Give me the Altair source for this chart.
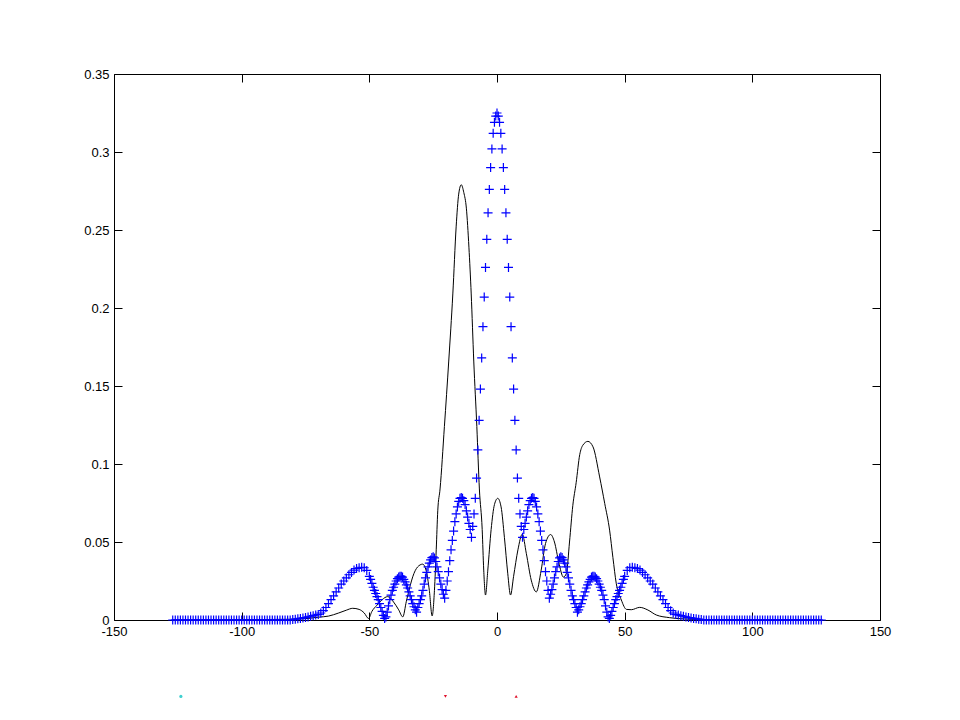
import altair as alt
import pandas as pd

# ---------------- data ----------------
x_ticks = [-150, -100, -50, 0, 50, 100, 150]
y_ticks = [0, 0.05, 0.1, 0.15, 0.2, 0.25, 0.3, 0.35]

# blue '+' series: sample grid (1 unit in the tails, 0.5 unit in the centre)
blue_x = list(range(-127, -50)) + [k / 2 for k in range(-100, 101)] + list(range(51, 128))

blue_y_left_tail = [
    0, 0, 0, 0, 0, 0, 0, 0, 0, 0,
    0, 0, 0, 0, 0, 0, 0, 0, 0, 0,
    0, 0, 0, 0, 0, 0, 0, 0, 0, 0,
    0, 0, 0, 0, 0, 0, 0, 0, 0, 0,
    0, 0, 0, 0, 0, 0, 0,
    0.0003, 0.0005, 0.0008, 0.001, 0.0013, 0.0016, 0.002, 0.0024, 0.0028, 0.0032,
    0.0036, 0.0045, 0.006, 0.008, 0.0105, 0.013, 0.0155, 0.018, 0.0205, 0.023,
    0.025, 0.027, 0.029, 0.0305, 0.032, 0.033, 0.0335, 0.0338, 0.0335, 0.0318,
]
blue_y_centre = [
    0.028, 0.026, 0.0235, 0.021, 0.019, 0.017, 0.015, 0.013, 0.0105, 0.008,
    0.0055, 0.003, 0.001, 0.002, 0.005, 0.009, 0.013, 0.016, 0.019, 0.021,
    0.023, 0.025, 0.0265, 0.0275, 0.028, 0.028, 0.0275, 0.026, 0.0245, 0.0225,
    0.0205, 0.018, 0.0155, 0.013, 0.0105, 0.0085, 0.0065, 0.005, 0.008, 0.0105,
    0.013, 0.0155, 0.019, 0.023, 0.027, 0.0305, 0.034, 0.0365, 0.0385, 0.040,
    0.0405, 0.0398, 0.0375, 0.034, 0.031, 0.027, 0.023, 0.0195, 0.0165, 0.014,
    0.019, 0.025, 0.031, 0.038, 0.045, 0.051, 0.057, 0.063, 0.068, 0.0725,
    0.076, 0.078, 0.0785, 0.078, 0.0765, 0.074, 0.070, 0.066, 0.062, 0.058,
    0.053, 0.060, 0.068, 0.078, 0.091, 0.109, 0.128, 0.148, 0.168, 0.188,
    0.207, 0.226, 0.244, 0.261, 0.276, 0.290, 0.302, 0.312, 0.319, 0.323,
    0.325,
    0.323, 0.319, 0.312, 0.302, 0.290, 0.276, 0.261, 0.244, 0.226, 0.207,
    0.188, 0.168, 0.148, 0.128, 0.109, 0.091, 0.078, 0.068, 0.060, 0.053,
    0.058, 0.062, 0.066, 0.070, 0.074, 0.0765, 0.078, 0.0785, 0.078, 0.076,
    0.0725, 0.068, 0.063, 0.057, 0.051, 0.045, 0.038, 0.031, 0.025, 0.019,
    0.014, 0.0165, 0.0195, 0.023, 0.027, 0.031, 0.034, 0.0375, 0.0398, 0.0405,
    0.040, 0.0385, 0.0365, 0.034, 0.0305, 0.027, 0.023, 0.019, 0.0155, 0.013,
    0.0105, 0.008, 0.005, 0.0065, 0.0085, 0.0105, 0.013, 0.0155, 0.018, 0.0205,
    0.0225, 0.0245, 0.026, 0.0275, 0.028, 0.028, 0.0275, 0.0265, 0.025, 0.023,
    0.021, 0.019, 0.016, 0.013, 0.009, 0.005, 0.002, 0.001, 0.003, 0.0055,
    0.008, 0.0105, 0.013, 0.015, 0.017, 0.019, 0.021, 0.0235, 0.026, 0.028,
]
blue_y_right_tail = [
    0.0318, 0.0335, 0.0338, 0.0335, 0.033, 0.032, 0.0305, 0.029, 0.027, 0.025,
    0.023, 0.0205, 0.018, 0.0155, 0.013, 0.0105, 0.008, 0.006, 0.0045, 0.0036,
    0.0032, 0.0028, 0.0024, 0.002, 0.0016, 0.0013, 0.001, 0.0008, 0.0005, 0.0003,
    0, 0, 0, 0, 0, 0, 0, 0, 0, 0,
    0, 0, 0, 0, 0, 0, 0, 0, 0, 0,
    0, 0, 0, 0, 0, 0, 0, 0, 0, 0,
    0, 0, 0, 0, 0, 0, 0, 0, 0, 0,
    0, 0, 0, 0, 0, 0, 0,
]
blue_y = blue_y_left_tail + blue_y_centre + blue_y_right_tail

# black line series
black_x = [
    -127, -100, -80, -74, -70, -66, -62, -59, -56.5, -54,
    -52, -50.3, -49, -47, -45, -42.8, -40.5, -38.5, -36.9, -35.5,
    -34, -33, -31.1, -29.1, -27.8, -26.5, -25.4, -24.5, -23.8, -23.2,
    -22.3, -20.6, -18.9, -17.3, -16, -15, -14, -13, -12, -11,
    -10.1, -9.1, -7.9, -6.9, -5.8, -5.2, -4.5, -3.6, -2.3, -1,
    0.3, 1.6, 2.9, 4.2, 5.3, 6.5, 8.2, 9.9, 11.5, 13.4,
    15.4, 17.3, 19, 21, 22.5, 24.2, 26, 27.2, 28.4, 29.7,
    31, 32.4, 33.6, 35.6, 37.6, 40.2, 42.2, 44.1, 45.4, 46.7,
    48.7, 50.7, 52.6, 55.9, 59.1, 62.4, 67.6, 72, 80, 100,
    127,
]
black_y = [
    0.0, 0.0002, 0.0005, 0.001, 0.0018, 0.0025, 0.0045, 0.0063, 0.0075, 0.0068,
    0.0045, 0.001, 0.0055, 0.0095, 0.013, 0.015, 0.0115, 0.0065, 0.002, 0.012,
    0.022, 0.0277, 0.034, 0.0358, 0.032, 0.019, 0.0026, 0.019, 0.045, 0.070,
    0.084, 0.124, 0.166, 0.209, 0.252, 0.273, 0.279, 0.274, 0.264, 0.239,
    0.209, 0.166, 0.124, 0.084, 0.058, 0.032, 0.016, 0.032, 0.058, 0.074,
    0.078, 0.0725, 0.053, 0.030, 0.016, 0.028, 0.045, 0.055, 0.0425, 0.0256,
    0.018, 0.032, 0.049, 0.0548, 0.050, 0.037, 0.0275, 0.030, 0.050, 0.0735,
    0.088, 0.106, 0.112, 0.1145, 0.111, 0.0917, 0.0746, 0.0576, 0.040, 0.0235,
    0.0128, 0.0068, 0.0066, 0.0081, 0.0064, 0.0032, 0.0015, 0.0008, 0.0003, 0.0001,
    0.0,
]

# tiny coloured specks below the axes
speck_x = [-123.8, -20.2, 7.5]
speck_y = [-0.049, -0.049, -0.049]
speck_shape = ["circle", "triangle-down", "triangle-up"]
speck_color = ["#40d0d0", "#e0102a", "#e0102a"]

assert len(blue_x) == len(blue_y)
assert len(black_x) == len(black_y)

blue_df = pd.DataFrame({"x": blue_x, "y": blue_y})
black_df = pd.DataFrame({"x": black_x, "y": black_y})
speck_df = pd.DataFrame({"x": speck_x, "y": speck_y, "shape": speck_shape, "color": speck_color})

W, H = 766, 546
FONT = "Liberation Sans"

xscale = alt.Scale(domain=[-150, 150], nice=False, zero=False)
yscale = alt.Scale(domain=[0, 0.35], nice=False, zero=False)


def ax(orient, values, labels, pad=4):
    kw = dict(
        orient=orient, values=values, offset=-8, tickSize=8, domain=False, grid=False,
        title=None, tickColor="black", tickWidth=1, labels=labels,
    )
    if labels:
        kw.update(
            labelExpr="'' + datum.value", labelFont=FONT, labelFontSize=13,
            labelColor="black", labelPadding=pad, labelFlush=False, labelOverlap=False,
        )
    return alt.Axis(**kw)


black_layer = alt.Chart(black_df).mark_line(
    color="black", strokeWidth=1, interpolate="monotone"
).encode(
    x=alt.X("x:Q", scale=xscale, axis=ax("bottom", x_ticks, True, pad=5)),
    y=alt.Y("y:Q", scale=yscale, axis=ax("left", y_ticks, True, pad=5)),
    order="x:Q",
)

blue_layer = alt.Chart(blue_df).mark_point(
    shape="M-1,0H1M0,-1V1", filled=False, fill="transparent", stroke="#0000ff",
    strokeWidth=1.2, size=81, opacity=1, strokeOpacity=1,
).encode(
    x=alt.X("x:Q", scale=xscale, axis=ax("top", x_ticks, False)),
    y=alt.Y("y:Q", scale=yscale, axis=ax("right", y_ticks, False)),
)

speck_layer = alt.Chart(speck_df).mark_point(filled=True, size=10, opacity=1).encode(
    x=alt.X("x:Q", scale=xscale, axis=None),
    y=alt.Y("y:Q", scale=yscale, axis=None),
    shape=alt.Shape("shape:N", scale=None, legend=None),
    color=alt.Color("color:N", scale=None, legend=None),
)

chart = (
    alt.layer(black_layer, blue_layer, speck_layer)
    .resolve_axis(x="independent", y="independent")
    .properties(
        width=W,
        height=H,
        autosize=alt.AutoSizeParams(type="none"),
        padding={"left": 106, "top": 66, "right": 60, "bottom": 80},
        background="white",
    )
    .configure_view(stroke="black", strokeWidth=1)
)

chart.save("out.html", embed_options={"renderer": "svg", "actions": False})
